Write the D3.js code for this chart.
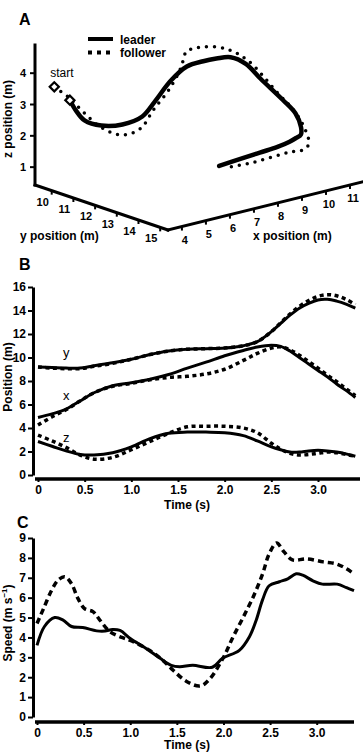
<!DOCTYPE html>
<html>
<head>
<meta charset="utf-8">
<script src="https://cdn.jsdelivr.net/npm/d3@7"></script>
<style>
  body { margin: 0; background: #fff; }
  svg { display: block; font-family: "Liberation Sans", Arial, sans-serif; }
  .tick text { font-weight: bold; }
</style>
</head>
<body>
<div class="chart"></div>
<script>

// Position data (panel B, also projected into panel A)
var timeB = [0, 0.15, 0.3, 0.45, 0.6, 0.8, 1.0, 1.2, 1.4, 1.6, 1.8, 2.0, 2.2, 2.35, 2.5, 2.6, 2.7, 2.8, 2.9, 3.0, 3.1, 3.2, 3.3, 3.4];

var leaderX = [4.9, 5.2, 5.6, 6.3, 7.0, 7.6, 7.85, 8.15, 8.55, 9.1, 9.6, 10.15, 10.6, 10.9, 11.05, 10.95, 10.55, 10.0, 9.45, 8.9, 8.35, 7.75, 7.2, 6.6];
var leaderY = [9.2, 9.15, 9.1, 9.1, 9.3, 9.55, 9.85, 10.25, 10.55, 10.7, 10.75, 10.8, 11.0, 11.35, 12.2, 12.9, 13.6, 14.2, 14.6, 14.9, 14.95, 14.8, 14.55, 14.2];
var leaderZ = [2.85, 2.45, 2.05, 1.75, 1.7, 1.9, 2.4, 3.1, 3.55, 3.65, 3.65, 3.6, 3.35, 2.9, 2.4, 2.15, 1.95, 1.95, 2.05, 2.1, 2.05, 1.95, 1.8, 1.6];

var followerX = [4.25, 4.95, 5.55, 6.3, 7.0, 7.55, 7.8, 8.1, 8.3, 8.4, 8.6, 9.0, 9.75, 10.35, 10.8, 10.9, 10.65, 10.2, 9.65, 9.1, 8.5, 7.95, 7.35, 6.75];
var followerY = [9.2, 9.1, 9.05, 9.05, 9.25, 9.5, 9.85, 10.25, 10.55, 10.7, 10.75, 10.8, 11.0, 11.35, 12.2, 12.95, 13.7, 14.35, 14.85, 15.2, 15.35, 15.25, 14.95, 14.5];
var followerZ = [3.4, 2.9, 2.35, 1.7, 1.35, 1.5, 2.15, 2.85, 3.55, 4.1, 4.15, 4.15, 4.0, 3.6, 2.7, 2.2, 1.85, 1.7, 1.75, 1.85, 1.95, 1.9, 1.75, 1.6];

// Speed data (panel C)
var leaderSpeedT = [0, 0.08, 0.19, 0.28, 0.37, 0.49, 0.64, 0.73, 0.81, 0.89, 1.0, 1.17, 1.32, 1.44, 1.53, 1.67, 1.88, 1.99, 2.17, 2.28, 2.35, 2.42, 2.49, 2.6, 2.69, 2.78, 2.85, 2.96, 3.06, 3.22, 3.32, 3.4];
var leaderSpeed = [3.6, 4.55, 5.0, 4.87, 4.55, 4.5, 4.33, 4.32, 4.4, 4.35, 3.95, 3.45, 2.95, 2.6, 2.53, 2.6, 2.5, 2.95, 3.35, 4.05, 4.85, 5.9, 6.6, 6.8, 6.95, 7.2, 7.13, 6.85, 6.68, 6.68, 6.5, 6.35];

var followerSpeedT = [0, 0.07, 0.16, 0.23, 0.3, 0.37, 0.44, 0.51, 0.6, 0.67, 0.78, 0.91, 1.0, 1.21, 1.35, 1.46, 1.6, 1.75, 1.85, 2.0, 2.1, 2.21, 2.32, 2.42, 2.49, 2.57, 2.65, 2.74, 2.89, 3.07, 3.21, 3.32, 3.4];
var followerSpeed = [4.7, 5.45, 6.4, 6.9, 7.05, 6.7, 5.95, 5.45, 5.3, 4.9, 4.3, 4.0, 3.85, 3.35, 2.85, 2.35, 1.8, 1.56, 1.9, 3.0, 4.0, 5.0, 6.05, 7.2, 8.2, 8.75, 8.3, 7.9, 7.95, 7.8, 7.7, 7.45, 7.2];

// Tick labels
var ticksX3 = [4, 5, 6, 7, 8, 9, 10, 11];
var ticksY3 = [10, 11, 12, 13, 14, 15];
var ticksZ3 = [1, 2, 3, 4];
var ticksPos = [0, 2, 4, 6, 8, 10, 12, 14, 16];
var ticksSpeed = [0, 1, 2, 3, 4, 5, 6, 7, 8, 9];
var ticksTime = [0, 0.5, 1.0, 1.5, 2.0, 2.5, 3.0];

var width = 363, height = 752;

var svg = d3.select(".chart")
    .append("svg")
        .attr("width", width)
        .attr("height", height);

// Panel letters
[["A", 19, 25], ["B", 19, 270], ["C", 17, 528]].forEach(function(p) {
    svg.append("text")
        .attr("x", p[1])
        .attr("y", p[2])
        .style("font-size", "16px")
        .style("font-weight", "bold")
        .text(p[0]);
});

/* ---------- Panel A: 3D trajectory ---------- */

// Oblique projection: origin corner and axis vectors (pixels)
var origin = [35, 185];
var xVec = [194, -48], yVec = [133, 45], zVec = [0, -140];

var xA = d3.scaleLinear().domain([3.42, 11.5]).range([0, 1]);
var yA = d3.scaleLinear().domain([9.23, 15.36]).range([0, 1]);
var zA = d3.scaleLinear().domain([0.43, 4.9]).range([0, 1]);

function project(x, y, z) {
    var u = xA(x), v = yA(y), w = zA(z);
    return [origin[0] + u * xVec[0] + v * yVec[0] + w * zVec[0],
            origin[1] + u * xVec[1] + v * yVec[1] + w * zVec[1]];
}

var gA = svg.append("g");

var x0 = xA.domain()[0], x1 = xA.domain()[1];
var y0 = yA.domain()[0], y1 = yA.domain()[1];
var z0 = zA.domain()[0], z1 = zA.domain()[1];

var axisA = [
    [project(x0, y0, z0), project(x0, y0, z1)],
    [project(x0, y0, z0), project(x0, y1, z0)],
    [project(x0, y1, z0), project(x1, y1, z0)]
];
axisA.forEach(function(a) {
    gA.append("line")
        .attr("x1", a[0][0]).attr("y1", a[0][1])
        .attr("x2", a[1][0]).attr("y2", a[1][1])
        .attr("stroke", "#000")
        .attr("stroke-width", 3)
        .attr("stroke-linecap", "square");
});

// z ticks
ticksZ3.forEach(function(t) {
    var p = project(x0, y0, t);
    gA.append("line")
        .attr("x1", p[0] - 5).attr("y1", p[1])
        .attr("x2", p[0]).attr("y2", p[1])
        .attr("stroke", "#000").attr("stroke-width", 2);
    gA.append("text")
        .attr("x", p[0] - 9).attr("y", p[1] + 4)
        .attr("text-anchor", "end")
        .style("font-size", "11px").style("font-weight", "bold")
        .text(t);
});

// y ticks
ticksY3.forEach(function(t) {
    var p = project(x0, t, z0);
    gA.append("line")
        .attr("x1", p[0]).attr("y1", p[1])
        .attr("x2", p[0]).attr("y2", p[1] + 4)
        .attr("stroke", "#000").attr("stroke-width", 2);
    gA.append("text")
        .attr("x", p[0] - 9).attr("y", p[1] + 15)
        .attr("text-anchor", "middle")
        .style("font-size", "11px").style("font-weight", "bold")
        .text(t);
});

// x ticks
ticksX3.forEach(function(t) {
    var p = project(t, y1, z0);
    gA.append("line")
        .attr("x1", p[0]).attr("y1", p[1])
        .attr("x2", p[0]).attr("y2", p[1] + 4)
        .attr("stroke", "#000").attr("stroke-width", 2);
    gA.append("text")
        .attr("x", p[0] + 3).attr("y", p[1] + 17.5)
        .attr("text-anchor", "middle")
        .style("font-size", "11px").style("font-weight", "bold")
        .text(t);
});

gA.append("text")
    .attr("transform", "translate(12,119) rotate(-90)")
    .attr("text-anchor", "middle")
    .style("font-size", "12px").style("font-weight", "bold")
    .text("z position (m)");

gA.append("text")
    .attr("x", 20).attr("y", 240)
    .style("font-size", "12px").style("font-weight", "bold")
    .text("y position (m)");

gA.append("text")
    .attr("x", 253).attr("y", 240)
    .style("font-size", "12px").style("font-weight", "bold")
    .text("x position (m)");

var line3 = d3.line()
    .x(function(d) { return d[0]; })
    .y(function(d) { return d[1]; })
    .curve(d3.curveCatmullRom.alpha(0.5));

var leaderPts = timeB.map(function(t, i) { return project(leaderX[i], leaderY[i], leaderZ[i]); });
var followerPts = timeB.map(function(t, i) { return project(followerX[i], followerY[i], followerZ[i]); });

gA.append("path")
    .attr("d", line3(followerPts))
    .attr("fill", "none")
    .attr("stroke", "#000")
    .attr("stroke-width", 3.5)
    .attr("stroke-linecap", "round")
    .attr("stroke-dasharray", "0 8");

gA.append("path")
    .attr("d", line3(leaderPts))
    .attr("fill", "none")
    .attr("stroke", "#000")
    .attr("stroke-width", 4.5)
    .attr("stroke-linecap", "round");

// Start markers
[leaderPts[0], followerPts[0]].forEach(function(p) {
    gA.append("path")
        .attr("d", d3.symbol(d3.symbolSquare, 42)())
        .attr("transform", "translate(" + p[0] + "," + p[1] + ") rotate(45)")
        .attr("fill", "#fff")
        .attr("stroke", "#000")
        .attr("stroke-width", 2.2);
});

gA.append("text")
    .attr("x", followerPts[0][0] - 4)
    .attr("y", followerPts[0][1] - 10)
    .style("font-size", "12px")
    .text("start");

// Legend
gA.append("line")
    .attr("x1", 88).attr("x2", 113).attr("y1", 39).attr("y2", 39)
    .attr("stroke", "#000").attr("stroke-width", 4);
gA.append("line")
    .attr("x1", 88).attr("x2", 114).attr("y1", 52.5).attr("y2", 52.5)
    .attr("stroke", "#000").attr("stroke-width", 4)
    .attr("stroke-dasharray", "4 5");
gA.append("text").attr("x", 120).attr("y", 43.5)
    .style("font-size", "12px").style("font-weight", "bold").text("leader");
gA.append("text").attr("x", 120).attr("y", 57)
    .style("font-size", "12px").style("font-weight", "bold").text("follower");

/* ---------- Shared axis helper for panels B and C ---------- */

function drawAxes(g, x, y, yTicks, axisY, xEnd) {
    var yAxis = d3.axisLeft(y)
        .tickValues(yTicks)
        .tickSize(5)
        .tickSizeOuter(0)
        .tickPadding(2);

    g.append("g")
        .attr("transform", "translate(33,0)")
        .call(yAxis)
        .call(function(s) {
            s.select(".domain").attr("stroke-width", 3);
            s.selectAll(".tick line").attr("stroke-width", 2);
            s.selectAll(".tick text").style("font-size", "12px");
        });

    var xAxis = d3.axisBottom(x)
        .tickValues(ticksTime)
        .tickSize(3)
        .tickSizeOuter(0)
        .tickPadding(3)
        .tickFormat(function(d) { return d === 0 ? "0" : d3.format(".1f")(d); });

    g.append("g")
        .attr("transform", "translate(0," + axisY + ")")
        .call(xAxis)
        .call(function(s) {
            s.select(".domain").remove();
            s.selectAll(".tick line").attr("stroke-width", 2);
            s.selectAll(".tick text").style("font-size", "12px");
        });

    g.append("line")
        .attr("x1", 35).attr("x2", xEnd)
        .attr("y1", axisY).attr("y2", axisY)
        .attr("stroke", "#000")
        .attr("stroke-width", 3.5);
}

/* ---------- Panel B: position vs time ---------- */

var gB = svg.append("g");

var xB = d3.scaleLinear().domain([0, 3.45]).range([38, 360]);
var yB = d3.scaleLinear().domain([0, 16]).range([475, 287]);

drawAxes(gB, xB, yB, ticksPos, 479, 360);

gB.append("text")
    .attr("x", 187).attr("y", 509)
    .attr("text-anchor", "middle")
    .style("font-size", "12px").style("font-weight", "bold")
    .text("Time (s)");

gB.append("text")
    .attr("transform", "translate(12,377) rotate(-90)")
    .attr("text-anchor", "middle")
    .style("font-size", "12px").style("font-weight", "bold")
    .text("Position (m)");

var lineB = d3.line()
    .x(function(d) { return xB(d[0]); })
    .y(function(d) { return yB(d[1]); })
    .curve(d3.curveCatmullRom.alpha(0.5));

function zipT(ts, vs) {
    return ts.map(function(t, i) { return [t, vs[i]]; });
}

[followerX, followerY, followerZ].forEach(function(vals) {
    gB.append("path")
        .attr("d", lineB(zipT(timeB, vals)))
        .attr("fill", "none")
        .attr("stroke", "#000")
        .attr("stroke-width", 3.5)
        .attr("stroke-dasharray", "4 3.5");
});

[leaderX, leaderY, leaderZ].forEach(function(vals) {
    gB.append("path")
        .attr("d", lineB(zipT(timeB, vals)))
        .attr("fill", "none")
        .attr("stroke", "#000")
        .attr("stroke-width", 3);
});

[["y", 357], ["x", 400], ["z", 442]].forEach(function(l) {
    gB.append("text")
        .attr("x", 63).attr("y", l[1])
        .style("font-size", "13px")
        .text(l[0]);
});

/* ---------- Panel C: speed vs time ---------- */

var gC = svg.append("g");

var xC = d3.scaleLinear().domain([0, 3.4]).range([37, 354]);
var yC = d3.scaleLinear().domain([0, 9]).range([717, 538]);

drawAxes(gC, xC, yC, ticksSpeed, 722, 354);

gC.append("text")
    .attr("x", 187).attr("y", 749)
    .attr("text-anchor", "middle")
    .style("font-size", "12px").style("font-weight", "bold")
    .text("Time (s)");

var speedLabel = gC.append("text")
    .attr("transform", "translate(12,623) rotate(-90)")
    .attr("text-anchor", "middle")
    .style("font-size", "12px").style("font-weight", "bold");
speedLabel.append("tspan").text("Speed (m s");
speedLabel.append("tspan")
    .attr("dy", -5)
    .style("font-size", "8px")
    .text("\u22121");
speedLabel.append("tspan")
    .attr("dy", 5)
    .text(")");

var lineC = d3.line()
    .x(function(d) { return xC(d[0]); })
    .y(function(d) { return yC(d[1]); })
    .curve(d3.curveCatmullRom.alpha(0.5));

gC.append("path")
    .attr("d", lineC(zipT(followerSpeedT, followerSpeed)))
    .attr("fill", "none")
    .attr("stroke", "#000")
    .attr("stroke-width", 3.5)
    .attr("stroke-dasharray", "6 4");

gC.append("path")
    .attr("d", lineC(zipT(leaderSpeedT, leaderSpeed)))
    .attr("fill", "none")
    .attr("stroke", "#000")
    .attr("stroke-width", 3);

</script>
</body>
</html>
